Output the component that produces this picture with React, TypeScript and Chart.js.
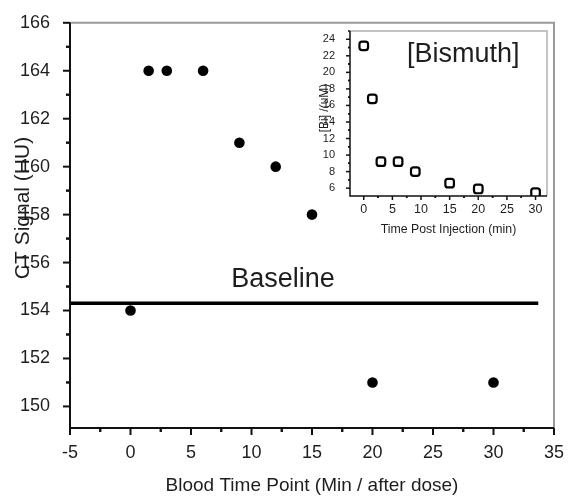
import React, { useEffect, useRef } from "react";
import { Chart, registerables } from "chart.js";
Chart.register(...registerables);

// ---- Main chart data ----
const timeMin = [0, 1.5, 3, 6, 9, 12, 15, 20, 30];
const ctSignal = [154, 164, 164, 164, 161, 160, 158, 151, 151];
const baselineX = [-5, 33.7];
const baselineValue = 154.3;
const mainXTicks = [-5, 0, 5, 10, 15, 20, 25, 30, 35];
const mainYTicks = [150, 152, 154, 156, 158, 160, 162, 164, 166];

// ---- Inset data ----
const injTime = [0, 1.5, 3, 6, 9, 15, 20, 30];
const biConc = [23.2, 16.8, 9.2, 9.2, 8.0, 6.6, 5.9, 5.45];
const insetXTicks = [0, 5, 10, 15, 20, 25, 30];
const insetYTicks = [6, 8, 10, 12, 14, 16, 18, 20, 22, 24];

const FONT = "'Liberation Sans', Arial, Helvetica, sans-serif";
const TEXT = "#1e1e1e";
Chart.defaults.font.family = FONT;

type FrameCfg = {
  xMajor: number[];
  yMajor: number[];
  xMinorStep: number;
  yMinorStep: number;
  majorLen: number;
  minorLen: number;
  axisWidth: number;
  frameColor: string;
  frameWidth: number;
  yTitle: string;
  yTitleFont: number;
  yTitleX: number;
  yTitleY: number;
  texts: { text: string; size: number; x: number; y: number; align: CanvasTextAlign; data?: boolean }[];
};

function framePlugin(cfg: FrameCfg) {
  return {
    id: "frameTicks",
    afterDraw(chart: any) {
      const { ctx, chartArea: a, scales } = chart;
      const xs = scales.x;
      const ys = scales.y;
      ctx.save();
      ctx.strokeStyle = cfg.frameColor;
      ctx.lineWidth = cfg.frameWidth;
      ctx.beginPath();
      ctx.moveTo(a.left, a.top);
      ctx.lineTo(a.right, a.top);
      ctx.lineTo(a.right, a.bottom);
      ctx.stroke();
      ctx.strokeStyle = "#111";
      ctx.lineWidth = cfg.axisWidth;
      ctx.beginPath();
      ctx.moveTo(a.left, a.top);
      ctx.lineTo(a.left, a.bottom);
      ctx.lineTo(a.right, a.bottom);
      ctx.stroke();
      const xMin = xs.min, xMax = xs.max, yMin = ys.min, yMax = ys.max;
      const drawX = (v: number, len: number) => {
        if (v < xMin - 1e-6 || v > xMax + 1e-6) return;
        const p = xs.getPixelForValue(v);
        ctx.beginPath();
        ctx.moveTo(p, a.bottom);
        ctx.lineTo(p, a.bottom + len);
        ctx.stroke();
      };
      const drawY = (v: number, len: number) => {
        if (v < yMin - 1e-6 || v > yMax + 1e-6) return;
        const p = ys.getPixelForValue(v);
        ctx.beginPath();
        ctx.moveTo(a.left, p);
        ctx.lineTo(a.left - len, p);
        ctx.stroke();
      };
      cfg.xMajor.forEach((v) => {
        drawX(v, cfg.majorLen);
        drawX(v + cfg.xMinorStep, cfg.minorLen);
        drawX(v - cfg.xMinorStep, cfg.minorLen);
      });
      cfg.yMajor.forEach((v) => {
        drawY(v, cfg.majorLen);
        drawY(v + cfg.yMinorStep, cfg.minorLen);
        drawY(v - cfg.yMinorStep, cfg.minorLen);
      });
      ctx.fillStyle = TEXT;
      ctx.font = `${cfg.yTitleFont}px ${FONT}`;
      ctx.textAlign = "center";
      ctx.textBaseline = "middle";
      ctx.translate(cfg.yTitleX, cfg.yTitleY);
      ctx.rotate(-Math.PI / 2);
      ctx.fillText(cfg.yTitle, 0, 0);
      ctx.setTransform(1, 0, 0, 1, 0, 0);
      cfg.texts.forEach((t) => {
        ctx.font = `${t.size}px ${FONT}`;
        ctx.textAlign = t.align;
        ctx.textBaseline = "alphabetic";
        const px = t.data ? xs.getPixelForValue(t.x) : t.x;
        const py = t.data ? ys.getPixelForValue(t.y) : t.y;
        ctx.fillText(t.text, px, py);
      });
      ctx.restore();
    },
  };
}

export default function App() {
  const mainRef = useRef<HTMLCanvasElement>(null);
  const insetRef = useRef<HTMLCanvasElement>(null);

  useEffect(() => {
    const main = new Chart(mainRef.current!, {
      type: "scatter",
      data: {
        datasets: [
          {
            data: timeMin.map((t, i) => ({ x: t, y: ctSignal[i] })),
            pointRadius: 5.3,
            pointBackgroundColor: "#000",
            pointBorderWidth: 0,
            showLine: false,
          },
          {
            type: "line",
            data: baselineX.map((x) => ({ x, y: baselineValue })),
            borderColor: "#000",
            borderWidth: 3.5,
            pointRadius: 0,
            showLine: true,
          } as any,
        ],
      },
      options: {
        animation: false,
        responsive: false,
        maintainAspectRatio: false,
        layout: { padding: { top: 16, right: 15, left: 0, bottom: 0 } },
        plugins: { legend: { display: false }, tooltip: { enabled: false } },
        scales: {
          x: {
            type: "linear",
            min: -5,
            max: 35,
            grid: { display: false },
            border: { display: false },
            afterFit: (s: any) => {
              s.height = 69;
            },
            afterBuildTicks: (s: any) => {
              s.ticks = mainXTicks.map((v) => ({ value: v }));
            },
            ticks: {
              font: { size: 18 },
              color: TEXT,
              padding: 6,
              maxRotation: 0,
              autoSkip: false,
              callback: (v: any) => String(v),
            },
            title: {
              display: true,
              text: "Blood Time Point (Min / after dose)",
              font: { size: 19 },
              color: TEXT,
              padding: { top: 0, bottom: 0 },
            },
          },
          y: {
            type: "linear",
            min: 149.1,
            max: 166,
            grid: { display: false },
            border: { display: false },
            afterFit: (s: any) => {
              s.width = 70;
            },
            afterBuildTicks: (s: any) => {
              s.ticks = mainYTicks.map((v) => ({ value: v }));
            },
            ticks: {
              font: { size: 18 },
              color: TEXT,
              padding: 12,
              autoSkip: false,
              callback: (v: any) => String(v),
            },
          },
        },
      },
      plugins: [
        framePlugin({
          xMajor: mainXTicks,
          yMajor: mainYTicks,
          xMinorStep: 2.5,
          yMinorStep: 1,
          majorLen: 7,
          minorLen: 4,
          axisWidth: 2,
          frameColor: "#9a9a9a",
          frameWidth: 2,
          yTitle: "CT Signal (HU)",
          yTitleFont: 21,
          yTitleX: 23,
          yTitleY: 208,
          texts: [{ text: "Baseline", size: 27, x: 12.6, y: 154.96, align: "center", data: true }],
        }) as any,
      ],
    });

    const inset = new Chart(insetRef.current!, {
      type: "scatter",
      data: {
        datasets: [
          {
            data: injTime.map((t, i) => ({ x: t, y: biConc[i] })),
            pointStyle: "rectRounded",
            pointRadius: 5,
            pointBackgroundColor: "#fff",
            pointBorderColor: "#000",
            pointBorderWidth: 2.2,
            showLine: false,
          },
        ],
      },
      options: {
        animation: false,
        responsive: false,
        maintainAspectRatio: false,
        layout: { padding: { top: 16, right: 13, left: 0, bottom: 0 } },
        plugins: { legend: { display: false }, tooltip: { enabled: false } },
        scales: {
          x: {
            type: "linear",
            min: -2.4,
            max: 32,
            grid: { display: false },
            border: { display: false },
            afterFit: (s: any) => {
              s.height = 54;
            },
            afterBuildTicks: (s: any) => {
              s.ticks = insetXTicks.map((v) => ({ value: v }));
            },
            ticks: {
              font: { size: 12.5 },
              color: TEXT,
              padding: -2,
              maxRotation: 0,
              autoSkip: false,
              callback: (v: any) => String(v),
            },
            title: {
              display: true,
              text: "Time Post Injection (min)",
              font: { size: 12.3 },
              color: TEXT,
              padding: { top: 0, bottom: 13 },
            },
          },
          y: {
            type: "linear",
            min: 5.05,
            max: 25,
            grid: { display: false },
            border: { display: false },
            afterFit: (s: any) => {
              s.width = 60;
            },
            afterBuildTicks: (s: any) => {
              s.ticks = insetYTicks.map((v) => ({ value: v }));
            },
            ticks: {
              font: { size: 11 },
              color: TEXT,
              padding: 7,
              autoSkip: false,
              callback: (v: any) => String(v),
            },
          },
        },
      },
      plugins: [
        framePlugin({
          xMajor: insetXTicks,
          yMajor: insetYTicks,
          xMinorStep: 2.5,
          yMinorStep: 1,
          majorLen: 4,
          minorLen: 2,
          axisWidth: 1.5,
          frameColor: "#b0b0b0",
          frameWidth: 1.5,
          yTitle: "[Bi] /(uM)",
          yTitleFont: 12,
          yTitleX: 35,
          yTitleY: 93,
          texts: [{ text: "[Bismuth]", size: 27, x: 117, y: 47, align: "left" }],
        }) as any,
      ],
    });

    return () => {
      main.destroy();
      inset.destroy();
    };
  }, []);

  return (
    <div style={{ position: "absolute", left: 0, top: 0, width: 570, height: 497, background: "#fff" }}>
      <canvas ref={mainRef} width={570} height={497} style={{ position: "absolute", left: 0, top: 0, width: 570, height: 497 }} />
      <canvas ref={insetRef} width={270} height={235} style={{ position: "absolute", left: 290, top: 15, width: 270, height: 235 }} />
    </div>
  );
}
